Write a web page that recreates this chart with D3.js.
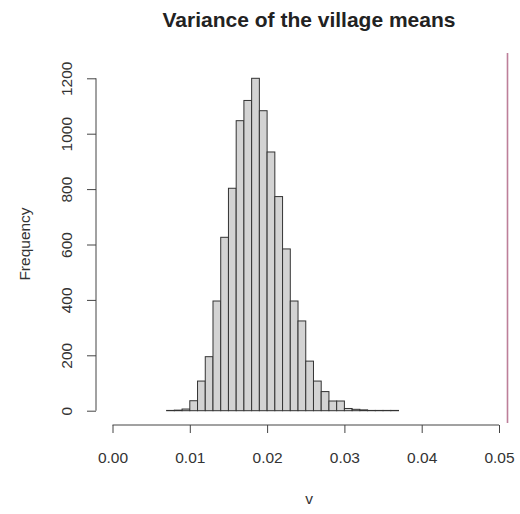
<!DOCTYPE html>
<html lang="en">
<head>
    <meta charset="UTF-8">
    <title>Variance of the village means</title>
    <script src="https://d3js.org/d3.v7.min.js"></script>
    <style>
        body { margin: 0; background: #fff; }
        svg text { font-family: "Liberation Sans", Arial, sans-serif; fill: #333; }
    </style>
</head>
<body>
    <svg id="chart" width="520" height="514"></svg>
    <script>
        // histogram bins (left edges, width 0.001) and counts
        const binStarts = [0.007, 0.008, 0.009, 0.010, 0.011, 0.012, 0.013, 0.014, 0.015, 0.016,
                           0.017, 0.018, 0.019, 0.020, 0.021, 0.022, 0.023, 0.024, 0.025, 0.026,
                           0.027, 0.028, 0.029, 0.030, 0.031, 0.032, 0.033, 0.034, 0.035, 0.036];
        const counts = [1, 2, 6, 36, 107, 195, 396, 626, 803, 1047,
                        1120, 1200, 1083, 934, 773, 584, 396, 324, 179, 107,
                        69, 35, 35, 8, 5, 3, 1, 1, 1, 1];
        const binWidth = 0.001;
        const observed = 0.0511;   // the vertical line on the right
        const xTicks = [0, 0.01, 0.02, 0.03, 0.04, 0.05];
        const yTicks = [0, 200, 400, 600, 800, 1000, 1200];

        const svg = d3.select("#chart");

        const x = d3.scaleLinear().domain([0, 0.05]).range([112.5, 499]);
        const y = d3.scaleLinear().domain([0, 1200]).range([410.7, 78.3]);

        const bins = binStarts.map((b, i) => ({ x0: b, x1: b + binWidth, n: counts[i] }));

        // bars
        svg.append("g")
            .selectAll("rect")
            .data(bins)
            .enter().append("rect")
            .attr("x", d => x(d.x0))
            .attr("width", d => x(d.x1) - x(d.x0))
            .attr("y", d => y(d.n))
            .attr("height", d => y(0) - y(d.n))
            .attr("fill", "#d3d3d3")
            .attr("stroke", "#333")
            .attr("stroke-width", 1);

        // observed value line
        svg.append("line")
            .attr("x1", x(observed)).attr("x2", x(observed))
            .attr("y1", 53).attr("y2", 423)
            .attr("stroke", "#bd7f9a")
            .attr("stroke-width", 1.6);

        // x axis, R style: line spans first to last tick
        const xAxis = svg.append("g")
            .attr("transform", "translate(0,425)")
            .call(d3.axisBottom(x).tickValues(xTicks).tickFormat(d3.format(".2f"))
                .tickSize(8).tickSizeOuter(0));
        xAxis.select(".domain").attr("d", `M${x(0)},0H${x(0.05)}`).attr("stroke", "#444");
        xAxis.selectAll(".tick line").attr("stroke", "#444");
        xAxis.selectAll(".tick text")
            .attr("font-size", 15.5)
            .attr("dy", null)
            .attr("y", 38);

        // y axis with rotated labels
        const yAxis = svg.append("g")
            .attr("transform", "translate(96,0)")
            .call(d3.axisLeft(y).tickValues(yTicks).tickFormat(d3.format("d"))
                .tickSize(9).tickSizeOuter(0));
        yAxis.select(".domain").attr("d", `M0,${y(0)}V${y(1200)}`).attr("stroke", "#444");
        yAxis.selectAll(".tick line").attr("stroke", "#444");
        yAxis.selectAll(".tick text")
            .attr("font-size", 15.5)
            .attr("text-anchor", "middle")
            .attr("x", null)
            .attr("dy", null)
            .attr("transform", "translate(-24,0) rotate(-90)");

        // titles
        svg.append("text")
            .attr("x", 309).attr("y", 27)
            .attr("text-anchor", "middle")
            .attr("font-size", 21)
            .attr("font-weight", "bold")
            .style("fill", "#222")
            .text("Variance of the village means");

        svg.append("text")
            .attr("x", 309).attr("y", 504)
            .attr("text-anchor", "middle")
            .attr("font-size", 15.5)
            .text("v");

        svg.append("text")
            .attr("transform", "translate(30,244) rotate(-90)")
            .attr("text-anchor", "middle")
            .attr("font-size", 15.5)
            .text("Frequency");
    </script>
</body>
</html>
